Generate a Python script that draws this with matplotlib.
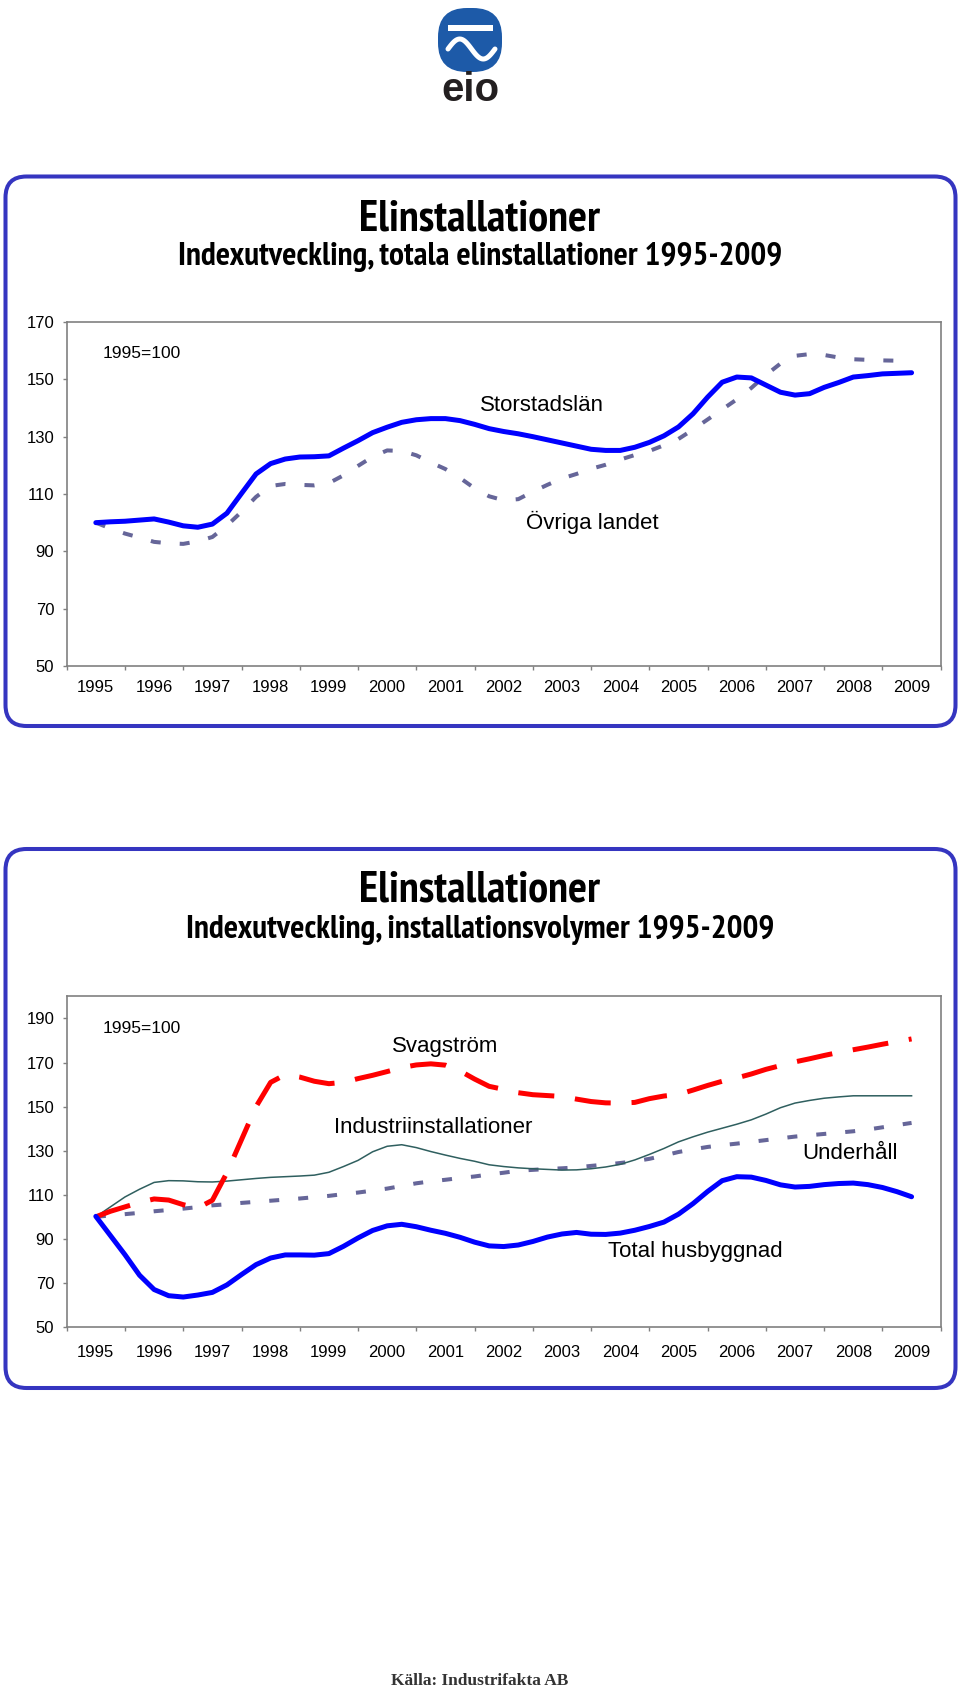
import numpy as np
import matplotlib
matplotlib.use("Agg")
import matplotlib.pyplot as plt
from matplotlib import font_manager
from matplotlib.patches import FancyBboxPatch, Rectangle

plt.rcParams['font.family'] = ['Liberation Sans', 'DejaVu Sans']
plt.rcParams['lines.scale_dashes'] = False

# titles are in a narrow bold face; use Liberation Sans Narrow if it is there,
# otherwise plain Liberation Sans at a smaller size so the widths fit
narrow = [f for f in font_manager.fontManager.ttflist
          if 'narrow' in f.name.lower() and f.weight in ('bold', 700)]
if narrow:
    TITLE_FONT = dict(fontproperties=font_manager.FontProperties(fname=narrow[0].fname))
    TITLE_SIZE, SUB_SIZE = 32, 24
else:
    TITLE_FONT = dict(family=['Liberation Sans', 'DejaVu Sans'], fontweight='bold')
    TITLE_SIZE, SUB_SIZE = 27, 20.5

# quarterly readings, 1995 Q1 .. 2009 Q1 (57 points), index 1995 = 100
quarters = 1995 + np.arange(57) / 4
years = list(range(1995, 2010))

storstadslan = [100.0, 100.3, 100.5, 100.9, 101.3, 100.2, 98.9, 98.4, 99.5, 103.3,
                110.2, 117.0, 120.6, 122.2, 122.9, 123.0, 123.3, 126.0, 128.6, 131.4,
                133.3, 135.0, 135.9, 136.3, 136.3, 135.6, 134.3, 132.8, 131.8, 131.0,
                130.0, 128.9, 127.8, 126.7, 125.6, 125.2, 125.2, 126.3, 128.0, 130.3,
                133.4, 138.0, 143.8, 149.0, 150.8, 150.5, 148.0, 145.5, 144.5, 145.0,
                147.2, 148.9, 150.8, 151.3, 151.9, 152.1, 152.3]
ovriga_landet = [100.0, 98.0, 96.2, 94.8, 93.3, 92.8, 92.6, 93.5, 95.0, 99.0,
                 103.8, 109.0, 112.8, 113.5, 113.2, 113.0, 113.8, 116.5, 119.8, 123.0,
                 125.2, 125.0, 123.5, 121.0, 118.7, 115.6, 112.0, 109.2, 107.8, 108.2,
                 110.8, 113.2, 115.4, 117.0, 118.8, 120.2, 122.0, 123.6, 125.0, 127.0,
                 129.2, 132.5, 136.0, 139.5, 143.0, 147.0, 151.5, 155.5, 158.2, 158.8,
                 158.5, 157.6, 157.0, 156.8, 156.6, 156.5, 156.5]

svagstrom = [100.0, 102.5, 104.5, 106.5, 108.1, 107.6, 105.5, 104.0, 107.5, 120.0,
             135.0, 150.0, 161.0, 164.5, 163.4, 161.5, 160.4, 161.0, 162.7, 164.2,
             165.9, 167.7, 168.9, 169.4, 168.8, 166.2, 162.5, 159.2, 157.8, 156.3,
             155.4, 155.0, 154.6, 153.4, 152.3, 151.7, 151.6, 151.9, 153.6, 154.8,
             155.5, 157.5, 159.6, 161.5, 163.0, 164.8, 166.9, 168.6, 170.3, 171.7,
             173.2, 174.6, 175.8, 177.0, 178.3, 179.5, 180.7]
industri = [100.0, 104.5, 109.0, 112.5, 115.6, 116.4, 116.3, 115.9, 115.8, 116.2,
            116.8, 117.4, 117.9, 118.2, 118.5, 118.9, 120.2, 122.8, 125.6, 129.5,
            132.0, 132.7, 131.4, 129.6, 128.0, 126.5, 125.2, 123.6, 122.8, 122.2,
            121.8, 121.5, 121.2, 121.3, 121.8, 122.6, 123.8, 125.8, 128.3, 131.0,
            134.0, 136.3, 138.4, 140.2, 142.0, 144.0, 146.6, 149.5, 151.6, 152.8,
            153.8, 154.4, 154.9, 154.9, 154.9, 154.9, 154.9]
underhall = [100.0, 100.6, 101.2, 101.8, 102.5, 103.1, 103.7, 104.4, 105.2, 105.7,
             106.3, 106.8, 107.3, 107.8, 108.3, 108.9, 109.5, 110.3, 111.0, 111.9,
             112.8, 114.0, 115.2, 116.1, 116.8, 117.6, 118.3, 119.2, 120.0, 120.9,
             121.3, 121.7, 122.0, 122.4, 123.1, 123.7, 124.4, 125.2, 126.3, 127.8,
             129.4, 130.6, 131.7, 132.5, 133.2, 134.0, 134.8, 135.6, 136.4, 137.0,
             137.6, 138.2, 138.8, 139.6, 140.6, 141.6, 142.6]
total_husbyggnad = [100.2, 91.5, 82.8, 73.5, 67.0, 64.2, 63.6, 64.5, 65.7, 69.1,
                    73.8, 78.3, 81.3, 82.7, 82.7, 82.6, 83.3, 86.6, 90.4, 93.8,
                    95.9, 96.6, 95.5, 93.9, 92.5, 90.7, 88.5, 86.8, 86.5, 87.2,
                    88.8, 90.8, 92.2, 92.9, 92.1, 92.0, 92.6, 93.9, 95.6, 97.6,
                    101.2, 106.0, 111.5, 116.4, 118.2, 118.0, 116.5, 114.5, 113.5, 113.8,
                    114.6, 115.1, 115.3, 114.6, 113.3, 111.4, 109.1]

BLUE = '#0000FF'
GREY = '#666699'
RED = '#FF0000'
TEAL = '#2F5F5F'
FRAME = '#3535C0'

W, H = 960, 1689
fig = plt.figure(figsize=(W / 100, H / 100), dpi=100)

# background layer in pixel units: panels, titles, logo, source
bg = fig.add_axes([0, 0, 1, 1])
bg.set_xlim(0, W)
bg.set_ylim(H, 0)
bg.axis('off')

for y0, y1 in [(176.5, 726), (849, 1388)]:
    bg.add_patch(FancyBboxPatch((5.5, y0), 950, y1 - y0,
                                boxstyle='round,pad=0,rounding_size=21',
                                fc='white', ec=FRAME, lw=2.9))

# logo
bg.add_patch(FancyBboxPatch((438, 8), 64, 64, boxstyle='round,pad=0,rounding_size=29',
                            fc='#1D5AA8', ec='none'))
bg.add_patch(Rectangle((448, 25), 45, 6, fc='white', ec='none'))
wx = np.linspace(448, 495, 60)
bg.plot(wx, 49 - 10 * np.sin(2 * np.pi * (wx - 448) / 47), color='white', lw=3.6,
        solid_capstyle='round')
bg.text(470, 101, 'eio', ha='center', va='baseline', fontsize=29, fontweight='bold',
        color='#231F20')

bg.text(480, 219, 'Elinstallationer', ha='center', va='center', fontsize=TITLE_SIZE,
        **TITLE_FONT)
bg.text(480, 257, 'Indexutveckling, totala elinstallationer 1995-2009', ha='center',
        va='center', fontsize=SUB_SIZE, **TITLE_FONT)
bg.text(480, 890, 'Elinstallationer', ha='center', va='center', fontsize=TITLE_SIZE,
        **TITLE_FONT)
bg.text(480, 930, 'Indexutveckling, installationsvolymer 1995-2009', ha='center',
        va='center', fontsize=SUB_SIZE, **TITLE_FONT)
bg.text(480, 1681, 'Källa: Industrifakta AB', ha='center', va='center', fontsize=12.5,
        fontweight='bold', family=['Liberation Serif', 'DejaVu Serif'], color='#333333')


def style_axes(ax, ymin, ymax, xpad):
    ax.set_xlim(1994.5, 2009.5)
    ax.set_ylim(ymin, ymax)
    ax.set_xticks(years)
    ax.set_xticklabels([str(y) for y in years])
    ax.set_xticks([y - 0.5 for y in years] + [2009.5], minor=True)
    ax.set_yticks(range(50, ymax + 1, 20))
    ax.tick_params(axis='x', which='major', length=0, pad=xpad, labelsize=12)
    ax.tick_params(axis='x', which='minor', length=3, width=1, color='#808080')
    ax.tick_params(axis='y', length=3, width=1, color='#808080', pad=6, labelsize=12)
    for s in ax.spines.values():
        s.set_color('#808080')
        s.set_linewidth(1.2)


# top chart
ax1 = fig.add_axes([66.7 / W, (H - 666) / H, 874 / W, 344 / H])
style_axes(ax1, 50, 170, 10)
ax1.plot(quarters, ovriga_landet, color=GREY, lw=2.9, ls=(0, (7.2, 13.7)),
         dash_capstyle='butt')
ax1.plot(quarters, storstadslan, color=BLUE, lw=3.6, solid_capstyle='round',
         solid_joinstyle='round')
ax1.text(1995.12, 159, '1995=100', ha='left', va='center', fontsize=12.5)
ax1.text(2002.66, 141, 'Storstadslän', ha='center', va='center', fontsize=16)
ax1.text(2003.52, 100.1, 'Övriga landet', ha='center', va='center', fontsize=16)

# bottom chart
ax2 = fig.add_axes([66.7 / W, (H - 1327) / H, 874 / W, 330.6 / H])
style_axes(ax2, 50, 200, 13)
ax2.set_yticks(range(50, 191, 20))
ax2.plot(quarters, underhall, color=GREY, lw=2.9, ls=(0, (7.2, 13.7)),
         dash_capstyle='butt')
ax2.plot(quarters, industri, color=TEAL, lw=1.1)
ax2.plot(quarters, svagstrom, color=RED, lw=3.6, ls=(0, (26, 15)),
         dash_capstyle='butt')
ax2.plot(quarters, total_husbyggnad, color=BLUE, lw=3.6, solid_capstyle='round',
         solid_joinstyle='round')
ax2.text(1995.11, 185.3, '1995=100', ha='left', va='center', fontsize=12.5)
ax2.text(2001.0, 177.2, 'Svagström', ha='center', va='center', fontsize=16)
ax2.text(2000.79, 140.4, 'Industriinstallationer', ha='center', va='center', fontsize=16)
ax2.text(2007.94, 128.6, 'Underhåll', ha='center', va='center', fontsize=16)
ax2.text(2005.28, 84.2, 'Total husbyggnad', ha='center', va='center', fontsize=16)

fig.savefig('out.png', dpi=100)
